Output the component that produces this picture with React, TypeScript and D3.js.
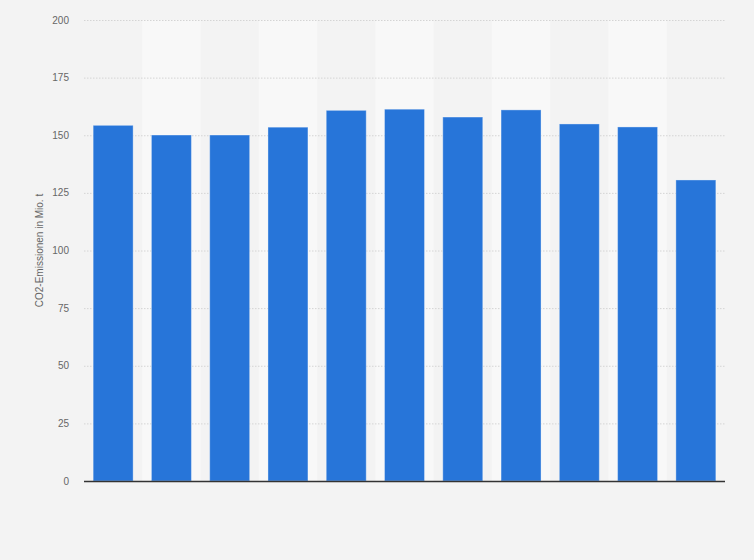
import React, { useEffect, useRef } from 'react';
import * as d3 from 'd3';

// values (Mio. t CO2), one bar per year
const categories = ['2009', '2010', '2011', '2012', '2013', '2014', '2015', '2016', '2017', '2018', '2019'];
const emissions = [154.3, 150.1, 150.1, 153.5, 160.8, 161.3, 157.9, 161.0, 154.9, 153.6, 130.6];
const yTicks = [0, 25, 50, 75, 100, 125, 150, 175, 200];
const yLabel = 'CO2-Emissionen in Mio. t';

const width = 754;
const height = 560;
const margin = { top: 20, right: 29, bottom: 79, left: 84 };

const App: React.FC = () => {
  const svgRef = useRef<SVGSVGElement | null>(null);

  useEffect(() => {
    if (!svgRef.current) return;
    const svg = d3.select(svgRef.current);
    svg.selectAll('*').remove();

    const x = d3.scaleBand()
      .domain(categories)
      .range([margin.left, width - margin.right])
      .paddingInner(0.314)
      .paddingOuter(0.157);

    const y = d3.scaleLinear()
      .domain([0, 200])
      .range([height - margin.bottom, margin.top]);

    svg.append('rect')
      .attr('width', width)
      .attr('height', height)
      .attr('fill', '#f3f3f3');

    // alternating column stripes
    const step = x.step();
    svg.append('g')
      .selectAll('rect')
      .data(categories.filter((_, i) => i % 2 === 1))
      .join('rect')
      .attr('x', d => (x(d) || 0) + x.bandwidth() / 2 - step / 2)
      .attr('y', y(200))
      .attr('width', step)
      .attr('height', y(0) - y(200))
      .attr('fill', '#f8f8f8');

    // grid lines
    svg.append('g')
      .selectAll('line')
      .data(yTicks.filter(t => t > 0))
      .join('line')
      .attr('x1', margin.left)
      .attr('x2', width - margin.right)
      .attr('y1', d => y(d) + 0.5)
      .attr('y2', d => y(d) + 0.5)
      .attr('stroke', '#d4d4d4')
      .attr('stroke-width', 1)
      .attr('stroke-dasharray', '1.5,1.5');

    // tick labels
    svg.append('g')
      .selectAll('text')
      .data(yTicks)
      .join('text')
      .attr('x', 69)
      .attr('y', d => y(d))
      .attr('dy', '0.35em')
      .attr('text-anchor', 'end')
      .attr('font-family', '"Liberation Sans", Arial, sans-serif')
      .attr('font-size', 10)
      .attr('fill', '#666')
      .text(d => d);

    // bars
    svg.append('g')
      .selectAll('rect')
      .data(emissions)
      .join('rect')
      .attr('x', (_, i) => x(categories[i]) || 0)
      .attr('y', d => y(d))
      .attr('width', x.bandwidth())
      .attr('height', d => y(0) - y(d))
      .attr('fill', '#2775d9')
      .attr('stroke', 'rgba(255,255,255,0.35)')
      .attr('stroke-width', 1);

    // baseline
    svg.append('line')
      .attr('x1', margin.left)
      .attr('x2', width - margin.right)
      .attr('y1', y(0) + 0.5)
      .attr('y2', y(0) + 0.5)
      .attr('stroke', '#333')
      .attr('stroke-width', 1.3);

    // y-axis title
    svg.append('text')
      .attr('transform', `translate(43, ${(y(0) + y(200)) / 2}) rotate(-90)`)
      .attr('text-anchor', 'middle')
      .attr('font-family', '"Liberation Sans", Arial, sans-serif')
      .attr('font-size', 10)
      .attr('fill', '#666')
      .text(yLabel);
  }, []);

  return (
    <svg
      ref={svgRef}
      width={width}
      height={height}
      style={{ position: 'absolute', left: 0, top: 0, display: 'block' }}
    />
  );
};

export default App;
